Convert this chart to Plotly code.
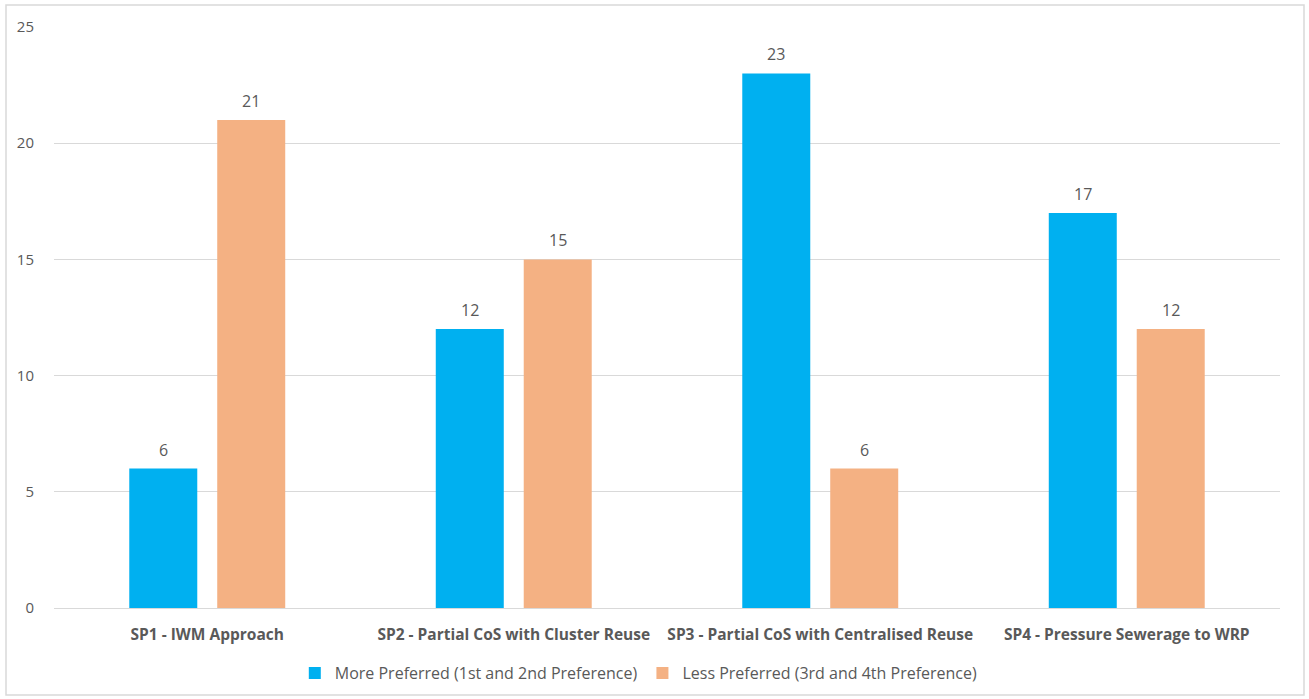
import plotly.graph_objects as go

categories = ["SP1 - IWM Approach", "SP2 - Partial CoS with Cluster Reuse",
              "SP3 - Partial CoS with Centralised Reuse", "SP4 - Pressure Sewerage to WRP"]
more_preferred = [6, 12, 23, 17]
less_preferred = [21, 15, 6, 12]
series_names = ["More Preferred (1st and 2nd Preference)", "Less Preferred (3rd and 4th Preference)"]
y_ticks = [0, 5, 10, 15, 20, 25]

FONT = "Open Sans"
GRAY = "#595959"
COLORS = ["#00B0F0", "#F4B183"]

fig = go.Figure()
for name, vals, col in zip(series_names, [more_preferred, less_preferred], COLORS):
    fig.add_trace(go.Bar(x=categories, y=vals, name=name, marker_color=col,
                         marker_line_width=0))

# data labels above bars (offset to each bar in the group)
for vals, shift in zip([more_preferred, less_preferred], [-44, 44]):
    for c, v in zip(categories, vals):
        fig.add_annotation(x=c, y=v, text=str(v), showarrow=False, xshift=shift,
                           yshift=19, yanchor="middle",
                           font=dict(size=16, color=GRAY, family=FONT))

L, R, T, B = 54, 29, 27, 91
W, H = 1309, 699
pw, ph = W - L - R, H - T - B

def px_x(px):
    return (px - L) / pw

def px_y(py):
    return (H - B - py) / ph

fig.update_layout(
    width=W, height=H,
    margin=dict(l=L, r=R, t=T, b=B, autoexpand=False),
    paper_bgcolor="white", plot_bgcolor="white",
    barmode="group", bargap=0.426, bargroupgap=0.227,
    font=dict(family=FONT, color=GRAY, size=15),
    showlegend=True,
    legend=dict(orientation="h", x=0.477, xanchor="center", y=px_y(673), yanchor="middle",
                font=dict(size=16, color=GRAY, family=FONT), itemwidth=30,
                traceorder="normal"),
)
fig.update_yaxes(range=[0, 25], tickvals=y_ticks, showgrid=True, gridcolor="#D9D9D9",
                 gridwidth=1, zeroline=False, showline=False, ticks="",
                 tickfont=dict(size=15, color=GRAY, family=FONT), ticklabelstandoff=19,
                 fixedrange=True)
fig.update_xaxes(showline=True, linecolor="#D9D9D9", linewidth=1, ticks="",
                 tickfont=dict(size=15.5, color=GRAY, family=FONT, weight="bold"),
                 tickangle=0, ticklabelstandoff=12)

fig.add_shape(type="rect", xref="paper", yref="paper",
              x0=px_x(6), x1=px_x(1304), y0=px_y(695), y1=px_y(5),
              line=dict(color="#D9D9D9", width=1.5), fillcolor="rgba(0,0,0,0)", layer="below")

fig.write_html("out.html")
